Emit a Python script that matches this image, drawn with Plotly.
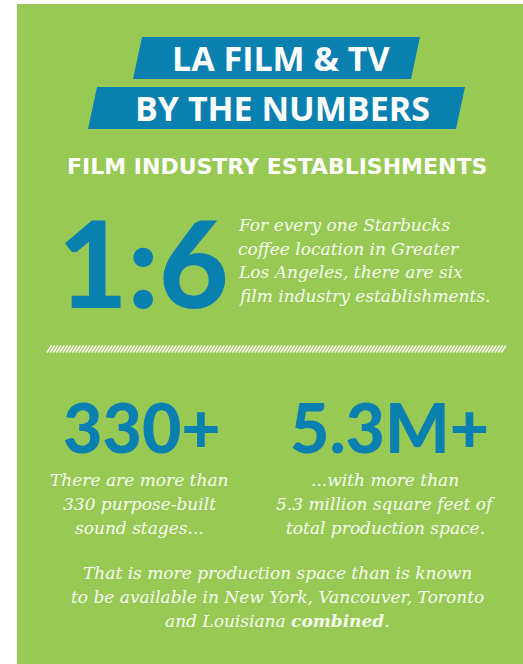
import numpy as np
import plotly.graph_objects as go

W, H = 523, 664
GREEN = "#98C954"
BLUE = "#0A80B1"
TEXT = "#F6FAEF"

# ---- content ----
title_lines = ["LA FILM & TV", "BY THE NUMBERS"]
section_title = "FILM INDUSTRY ESTABLISHMENTS"
ratio_value = "1:6"
ratio_text = ["For every one Starbucks", "coffee location in Greater",
              "Los Angeles, there are six", "film industry establishments."]
stat_values = ["330+", "5.3M+"]
stat_texts = [["There are more than", "330 purpose-built", "sound stages..."],
              ["...with more than", "5.3 million square feet of", "total production space."]]
closing_lines = ["That is more production space than is known",
                 "to be available in New York, Vancouver, Toronto",
                 "and Louisiana <b>combined</b>."]

fig = go.Figure()

shapes = []
# green panel
shapes.append(dict(type="rect", x0=17, x1=W + 2, y0=4, y1=H + 2, fillcolor=GREEN,
                   line=dict(width=0), layer="below"))
# title banners (parallelograms)
banners = [[(142, 37), (420, 37), (411, 79), (133, 79)],
           [(97, 87), (465, 87), (456, 129), (88, 129)]]
for b in banners:
    path = "M " + " L ".join(f"{x},{y}" for x, y in b) + " Z"
    shapes.append(dict(type="path", path=path, fillcolor=BLUE, line=dict(width=0), layer="below"))

# hatched divider
hx, hy = [], []
for x0 in np.arange(47, 503, 3.2):
    hx += [x0, x0 + 4.5, None]
    hy += [352.5, 345.5, None]
fig.add_trace(go.Scatter(x=hx, y=hy, mode="lines", line=dict(color=TEXT, width=1.6),
                         hoverinfo="skip", showlegend=False))

ann = []
HEAD = "Open Sans"
SERIF = "DejaVu Serif"

title_pos = [(281, 58), (282, 108)]
for t, (x, y) in zip(title_lines, title_pos):
    ann.append(dict(x=x, y=y, text=t, font=dict(family=HEAD, size=34, color="white", weight="bold")))

ann.append(dict(x=277, y=166, text=section_title,
                font=dict(family="DejaVu Sans", size=22, color="white", weight="bold")))

ann.append(dict(x=56, y=262, text=ratio_value, xanchor="left",
                font=dict(family="Lato", size=120, color=BLUE, weight=900)))

for i, line in enumerate(ratio_text):
    ann.append(dict(x=236, y=225 + i * 23.5, text=line, xanchor="left",
                    font=dict(family=SERIF, size=17, color=TEXT, style="italic")))

stat_x = [142, 389]
for v, x in zip(stat_values, stat_x):
    ann.append(dict(x=x, y=426, text=v,
                    font=dict(family="Lato", size=68, color=BLUE, weight=900)))

text_x = [139, 385]
for lines, x in zip(stat_texts, text_x):
    for i, line in enumerate(lines):
        ann.append(dict(x=x, y=480 + i * 24, text=line,
                        font=dict(family=SERIF, size=17, color=TEXT, style="italic")))

for i, line in enumerate(closing_lines):
    ann.append(dict(x=277, y=573 + i * 24, text=line,
                    font=dict(family=SERIF, size=17, color=TEXT, style="italic")))

for a in ann:
    a.update(xref="x", yref="y", showarrow=False)
    a.setdefault("xanchor", "center")
    a.setdefault("yanchor", "middle")

fig.update_layout(
    width=W, height=H, margin=dict(l=0, r=0, t=0, b=0),
    paper_bgcolor="white", plot_bgcolor="white",
    xaxis=dict(range=[0, W], visible=False, fixedrange=True),
    yaxis=dict(range=[H, 0], visible=False, fixedrange=True),
    shapes=shapes, annotations=ann, showlegend=False,
)
fig.write_html("out.html", config={"displayModeBar": False},
               post_script="document.body.style.margin='0px';")
